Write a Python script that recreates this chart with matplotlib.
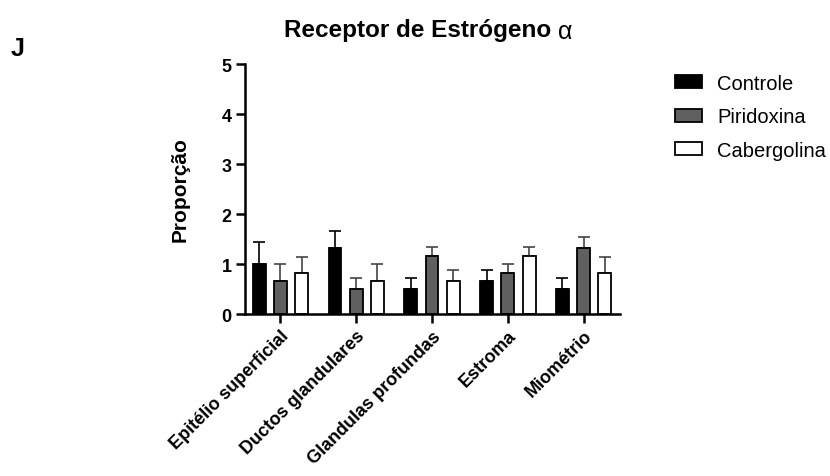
import numpy as np
import matplotlib
matplotlib.use('Agg')
import matplotlib.pyplot as plt

plt.rcParams['font.family'] = ['Liberation Sans', 'DejaVu Sans']

regions = ['Epitélio superficial', 'Ductos glandulares', 'Glandulas profundas',
           'Estroma', 'Miométrio']
groups = ['Controle', 'Piridoxina', 'Cabergolina']

controle = [1.0, 1.33, 0.5, 0.67, 0.5]
controle_err = [0.45, 0.33, 0.22, 0.22, 0.22]
piridoxina = [0.67, 0.5, 1.17, 0.83, 1.33]
piridoxina_err = [0.33, 0.22, 0.17, 0.17, 0.21]
cabergolina = [0.83, 0.67, 0.67, 1.17, 0.83]
cabergolina_err = [0.31, 0.33, 0.21, 0.17, 0.31]

fig = plt.figure(figsize=(8.3, 4.77), dpi=100)
ax = fig.add_axes([0.295, 0.3396, 0.452, 0.524])

x = np.arange(len(regions))
step = 0.28
width = 0.17
series = [(controle, controle_err, 'black', 'black'),
          (piridoxina, piridoxina_err, '#606060', '#444444'),
          (cabergolina, cabergolina_err, 'white', '#444444')]

for i, (vals, errs, fc, ec) in enumerate(series):
    pos = x + (i - 1) * step
    ax.bar(pos, vals, width, color=fc, edgecolor='black', linewidth=1.3,
           label=groups[i], zorder=2)
    ax.errorbar(pos, vals, yerr=[np.zeros(len(errs)), errs], fmt='none',
                ecolor=ec, elinewidth=1.2, capsize=4, capthick=1.2, zorder=1)

ax.set_xlim(-0.47, 4.48)
ax.set_ylim(0, 5)
ax.set_yticks(range(6))
ax.set_xticks(x)
ax.set_xticklabels(regions, rotation=45, ha='right', rotation_mode='anchor',
                   fontsize=13, fontweight='bold')
for lab in ax.get_yticklabels():
    lab.set_fontsize(13)
    lab.set_fontweight('bold')

for side in ['top', 'right']:
    ax.spines[side].set_visible(False)
for side in ['left', 'bottom']:
    ax.spines[side].set_linewidth(1.8)
ax.tick_params(axis='both', width=1.8, length=6.5, pad=3)

ax.set_ylabel('Proporção', fontsize=15, fontweight='bold', labelpad=23)

fig.text(0.672, 0.937, 'Receptor de Estrógeno ', fontsize=17.5, fontweight='bold',
         ha='right', va='center')
fig.text(0.672, 0.933, 'α', fontsize=18, ha='left', va='center')
fig.text(0.013, 0.897, 'J', fontsize=18, fontweight='bold', va='center')

fig.legend(loc='upper left', bbox_to_anchor=(0.813, 0.843), frameon=False,
           fontsize=14.5, handlelength=1.34, handleheight=0.6, labelspacing=0.72,
           handletextpad=0.75, borderaxespad=0, borderpad=0)

fig.savefig('out.png', dpi=100)
